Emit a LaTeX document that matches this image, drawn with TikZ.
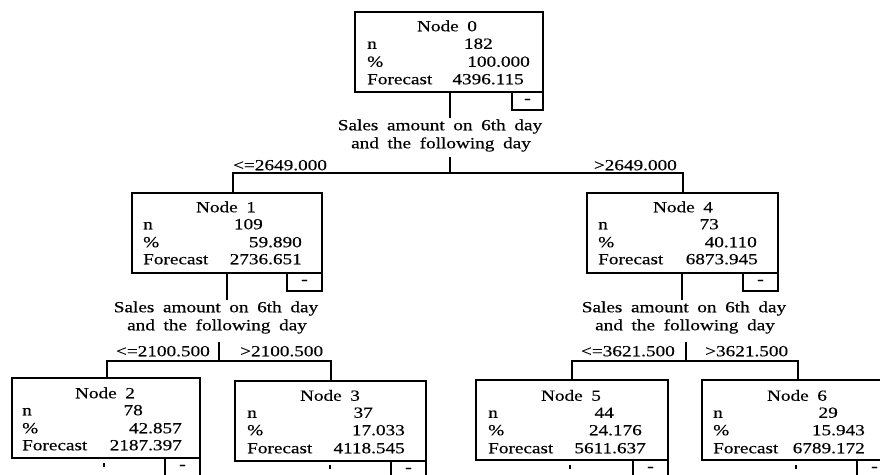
\documentclass[tikz,border=0pt]{standalone}
\usepackage{fontspec}
\setmainfont{Liberation Serif}[FakeStretch=1.24,WordSpace={1.8},FakeBold=0.3]
\begin{document}
\begin{tikzpicture}[x=1pt,y=-1pt,
  box/.style={draw, line width=2pt, anchor=north west, inner sep=0pt, outer sep=0pt, minimum height=80pt},
  minusbox/.style={draw, line width=2pt, anchor=north west, inner sep=0pt, outer sep=0pt, minimum width=35pt, minimum height=18pt, font=\fontsize{16}{16}\selectfont},
  conn/.style={line width=2.8pt, line join=miter},
  tick/.style={line width=2.2pt},
  txt/.style={inner sep=0pt, text height=10.5pt, text depth=0pt, font=\fontsize{15.5}{18}\selectfont},
]
\useasboundingbox[fill=white] (0,0) rectangle (880,474);

% ---------- Node 0 ----------
\node[box, minimum width=188pt] (b0) at (355,12) {};
\node[minusbox, minimum width=31pt] (m0) at (512,92) {-};
\node[txt] (t0a) at (447,26) {Node 0};
\node[txt, anchor=west] (t0b) at (367,43.5) {n};
\node[txt, anchor=west] (t0c) at (367,61.5) {\%};
\node[txt, anchor=west] (t0d) at (367,79) {Forecast};
\node[txt, anchor=east] (v0b) at (493,43.5) {182};
\node[txt, anchor=east] (v0c) at (530,61.5) {100.000};
\node[txt, anchor=east] (v0d) at (524,79) {4396.115};

% ---------- Node 1 ----------
\node[box, minimum width=190pt] (b1) at (132,193) {};
\node[minusbox] (m1) at (287,273) {-};
\node[txt] (t1a) at (226,207) {Node 1};
\node[txt, anchor=west] (t1b) at (143,224) {n};
\node[txt, anchor=west] (t1c) at (143,242) {\%};
\node[txt, anchor=west] (t1d) at (143,259) {Forecast};
\node[txt, anchor=east] (v1b) at (263,224) {109};
\node[txt, anchor=east] (v1c) at (302,242) {59.890};
\node[txt, anchor=east] (v1d) at (302,259) {2736.651};

% ---------- Node 4 ----------
\node[box, minimum width=191pt] (b4) at (587,193) {};
\node[minusbox] (m4) at (743,273) {-};
\node[txt] (t4a) at (683,207) {Node 4};
\node[txt, anchor=west] (t4b) at (598,224) {n};
\node[txt, anchor=west] (t4c) at (598,242) {\%};
\node[txt, anchor=west] (t4d) at (598,259) {Forecast};
\node[txt, anchor=east] (v4b) at (719,224) {73};
\node[txt, anchor=east] (v4c) at (757,242) {40.110};
\node[txt, anchor=east] (v4d) at (758,259) {6873.945};

% ---------- Node 2 ----------
\node[box, minimum width=188pt] (b2) at (12,378) {};
\node[minusbox] (m2) at (165,458) {-};
\node[txt] (t2a) at (105,393) {Node 2};
\node[txt, anchor=west] (t2b) at (22,410) {n};
\node[txt, anchor=west] (t2c) at (22,428) {\%};
\node[txt, anchor=west] (t2d) at (22,445) {Forecast};
\node[txt, anchor=east] (v2b) at (143,410) {78};
\node[txt, anchor=east] (v2c) at (182,428) {42.857};
\node[txt, anchor=east] (v2d) at (182,445) {2187.397};

% ---------- Node 3 ----------
\node[box, minimum width=191pt] (b3) at (235,381) {};
\node[minusbox] (m3) at (391,461) {-};
\node[txt] (t3a) at (330,395.5) {Node 3};
\node[txt, anchor=west] (t3b) at (247,412.5) {n};
\node[txt, anchor=west] (t3c) at (247,430) {\%};
\node[txt, anchor=west] (t3d) at (247,448) {Forecast};
\node[txt, anchor=east] (v3b) at (373,412.5) {37};
\node[txt, anchor=east] (v3c) at (405,430) {17.033};
\node[txt, anchor=east] (v3d) at (405,448) {4118.545};

% ---------- Node 5 ----------
\node[box, minimum width=192pt] (b5) at (476,380) {};
\node[minusbox] (m5) at (633,460) {-};
\node[txt] (t5a) at (571,395.5) {Node 5};
\node[txt, anchor=west] (t5b) at (488,412.5) {n};
\node[txt, anchor=west] (t5c) at (488,430) {\%};
\node[txt, anchor=west] (t5d) at (488,448) {Forecast};
\node[txt, anchor=east] (v5b) at (614,412.5) {44};
\node[txt, anchor=east] (v5c) at (642,430) {24.176};
\node[txt, anchor=east] (v5d) at (646,448) {5611.637};

% ---------- Node 6 ----------
\node[box, minimum width=190pt] (b6) at (702,380) {};
\node[minusbox] (m6) at (857,460) {-};
\node[txt] (t6a) at (797,395.5) {Node 6};
\node[txt, anchor=west] (t6b) at (713,412.5) {n};
\node[txt, anchor=west] (t6c) at (713,430) {\%};
\node[txt, anchor=west] (t6d) at (713,448) {Forecast};
\node[txt, anchor=east] (v6b) at (838,412.5) {29};
\node[txt, anchor=east] (v6c) at (865,430) {15.943};
\node[txt, anchor=east] (v6d) at (865,448) {6789.172};

% ---------- split 0 ----------
\node[txt] (s0a) at (440,125) {Sales amount on 6th day};
\node[txt] (s0b) at (441,143) {and the following day};
\node[txt, anchor=west] (l0a) at (233,165) {<=2649.000};
\node[txt, anchor=east] (l0b) at (677,165) {>2649.000};
\coordinate (d0) at (450,118);
\coordinate (j0) at (450,157);
\coordinate (h0) at (450,173);
\coordinate (c1) at (233,173);
\coordinate (c4) at (683,173);
\draw[conn] (b0.south -| d0) -- (d0);
\draw[conn] (j0) -- (h0);
\draw[conn] (c1 |- b1.north) -- (c1) -- (c4) -- (c4 |- b4.north);

% ---------- split 1 ----------
\node[txt] (s1a) at (216,307) {Sales amount on 6th day};
\node[txt] (s1b) at (217,325) {and the following day};
\node[txt, anchor=east] (l1a) at (210,351) {<=2100.500};
\node[txt, anchor=west] (l1b) at (240,351) {>2100.500};
\coordinate (d1) at (227,300);
\coordinate (j1) at (219,342);
\coordinate (h1) at (219,361);
\coordinate (c2) at (107,361);
\coordinate (c3) at (331,361);
\draw[conn] (b1.south -| d1) -- (d1);
\draw[conn] (j1) -- (h1);
\draw[conn] (c2 |- b2.north) -- (c2) -- (c3) -- (c3 |- b3.north);

% ---------- split 4 ----------
\node[txt] (s4a) at (684,307) {Sales amount on 6th day};
\node[txt] (s4b) at (685,325) {and the following day};
\node[txt, anchor=east] (l4a) at (675,351) {<=3621.500};
\node[txt, anchor=west] (l4b) at (705,351) {>3621.500};
\coordinate (d4) at (682,300);
\coordinate (j4) at (686,342);
\coordinate (h4) at (686,361);
\coordinate (c5) at (572,361);
\coordinate (c6) at (798,361);
\draw[conn] (b4.south -| d4) -- (d4);
\draw[conn] (j4) -- (h4);
\draw[conn] (c5 |- b5.north) -- (c5) -- (c6) -- (c6 |- b6.north);

% ---------- leaf ticks ----------
\coordinate (k2) at (104,463); \coordinate (k2e) at (104,467);
\coordinate (k3) at (330,465); \coordinate (k3e) at (330,469);
\coordinate (k5) at (570,465); \coordinate (k5e) at (570,469);
\coordinate (k6) at (796,465); \coordinate (k6e) at (796,469);
\draw[tick] (k2) -- (k2e);
\draw[tick] (k3) -- (k3e);
\draw[tick] (k5) -- (k5e);
\draw[tick] (k6) -- (k6e);
\end{tikzpicture}
\end{document}
